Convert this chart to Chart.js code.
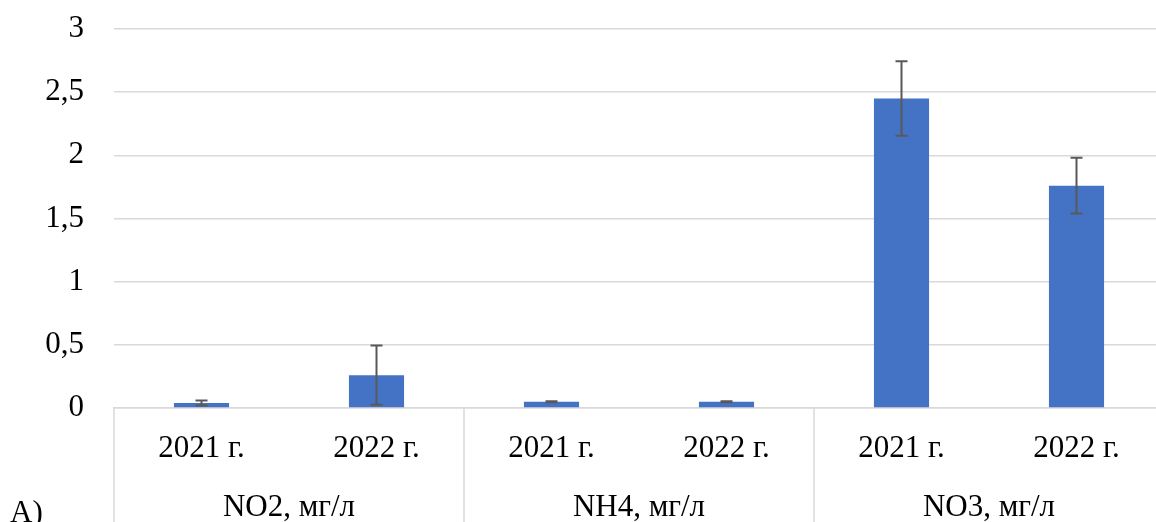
<!DOCTYPE html>
<html>
<head>
<meta charset="utf-8">
<script src="https://cdn.jsdelivr.net/npm/chart.js@4"></script>
<style>
  html, body { margin:0; padding:0; overflow:hidden; background:#fff; }
  canvas { display:block; }
</style>
</head>
<body>
<canvas id="chart" width="1170" height="522"></canvas>
<script>

const groups = ["NO2, мг/л", "NH4, мг/л", "NO3, мг/л"];
const years = ["2021 г.", "2022 г."];
const values = [0.04, 0.26, 0.05, 0.05, 2.45, 1.76];
const errors = [0.02, 0.235, 0.004, 0.004, 0.295, 0.22];
const yTicks = [0, 0.5, 1, 1.5, 2, 2.5, 3];

const labels = [];
groups.forEach(()=>{
  years.forEach(y=>labels.push(y));
});

const FONT = "'Liberation Serif', 'Times New Roman', serif";
const SIZE = 31;

/* error bars */

const errorBars = {
  id:"errorBars",
  afterDatasetsDraw(chart){
    const ctx = chart.ctx;
    const y = chart.scales.y;
    const meta = chart.getDatasetMeta(0);
    ctx.save();
    ctx.strokeStyle = "#595959";
    ctx.lineWidth = 2;
    meta.data.forEach((bar,i)=>{
      const top = y.getPixelForValue(values[i] + errors[i]);
      const bottom = y.getPixelForValue(values[i] - errors[i]);
      ctx.beginPath();
      ctx.moveTo(bar.x, top);
      ctx.lineTo(bar.x, bottom);
      ctx.moveTo(bar.x-6, top);
      ctx.lineTo(bar.x+6, top);
      ctx.moveTo(bar.x-6, bottom);
      ctx.lineTo(bar.x+6, bottom);
      ctx.stroke();
    });
    ctx.restore();
  }
};

/* group labels + separators */

const groupAxis = {
  id:"groupAxis",
  afterDraw(chart){
    const ctx = chart.ctx;
    const x = chart.scales.x;
    const area = chart.chartArea;
    const step = x.getPixelForValue(1) - x.getPixelForValue(0);
    ctx.save();
    ctx.strokeStyle = "#d9d9d9";
    ctx.lineWidth = 1.5;
    for(let g=0; g<=groups.length; g++){
      const px = x.getPixelForValue(g*years.length) - step/2;
      ctx.beginPath();
      ctx.moveTo(px, area.bottom);
      ctx.lineTo(px, chart.height);
      ctx.stroke();
    }
    ctx.fillStyle = "#000";
    ctx.font = SIZE + "px " + FONT;
    ctx.textAlign = "center";
    ctx.textBaseline = "alphabetic";
    groups.forEach((name,g)=>{
      const a = x.getPixelForValue(g*years.length);
      const b = x.getPixelForValue(g*years.length + years.length - 1);
      ctx.fillText(name, (a+b)/2, 516);
    });
    ctx.textAlign = "left";
    ctx.fillText("A)", 10, 522);
    ctx.restore();
  }
};

new Chart(document.getElementById("chart"), {
  type:"bar",
  data:{
    labels:labels,
    datasets:[{
      data:values,
      backgroundColor:"#4472c4",
      borderWidth:0,
      barPercentage:0.315,
      categoryPercentage:1
    }]
  },
  options:{
    responsive:false,
    animation:false,
    layout:{ padding:{ top:29, right:6, left:0, bottom:0 } },
    plugins:{ legend:{ display:false }, tooltip:{ enabled:false } },
    scales:{
      x:{
        grid:{ display:false },
        border:{ display:true, color:"#d9d9d9", width:1.5 },
        ticks:{
          color:"#000",
          font:{ family:FONT, size:SIZE },
          padding:14,
          maxRotation:0,
          autoSkip:false
        },
        afterFit(scale){ scale.height = 114; }
      },
      y:{
        min:0,
        max:3,
        afterBuildTicks(scale){
          scale.ticks = yTicks.map(v=>({ value:v }));
        },
        grid:{ color:"#d9d9d9", lineWidth:1.5, drawTicks:false },
        border:{ display:false },
        ticks:{
          color:"#000",
          font:{ family:FONT, size:SIZE },
          padding:30,
          callback:v=>String(v).replace(".", ",")
        },
        afterFit(scale){
          scale.width = 114;
          scale.paddingTop = 0;
          scale.paddingBottom = 0;
        }
      }
    }
  },
  plugins:[errorBars, groupAxis]
});
</script>
</body>
</html>
